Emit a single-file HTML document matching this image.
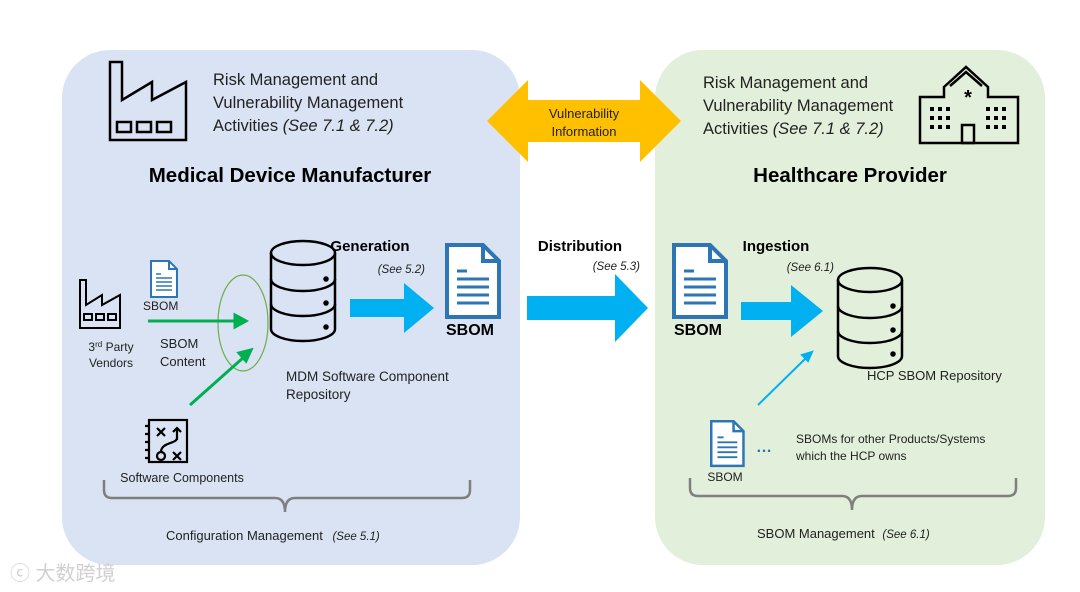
<!DOCTYPE html>
<html><head><meta charset="utf-8"><style>
html,body{margin:0;padding:0;background:#fff;}
svg{display:block;font-family:"Liberation Sans",sans-serif;}
</style></head><body>
<svg width="1080" height="592" viewBox="0 0 1080 592" xmlns="http://www.w3.org/2000/svg">
<defs>
<g id="db" fill="none" stroke="#000" stroke-width="2.5">
<path d="M0,12 v76 a32,12 0 0 0 64,0 v-76"/>
<ellipse cx="32" cy="12" rx="32" ry="12"/>
<path d="M0,38 a32,12 0 0 0 64,0 M0,63 a32,12 0 0 0 64,0"/>
<circle cx="55" cy="38" r="1.5" fill="#000"/><circle cx="55" cy="62" r="1.5" fill="#000"/><circle cx="55" cy="86" r="1.5" fill="#000"/>
</g>
<g id="doc">
<path d="M2,2 h36 l16,16 v56 h-52 z" fill="#fff" stroke="#2e75b6" stroke-width="4"/>
<path d="M38,2 v16 h16" fill="none" stroke="#2e75b6" stroke-width="4"/>
<g stroke="#2e75b6" stroke-width="3"><line x1="12" y1="28" x2="22" y2="28"/><line x1="12" y1="36" x2="44" y2="36"/><line x1="12" y1="44" x2="44" y2="44"/><line x1="12" y1="52" x2="44" y2="52"/><line x1="12" y1="60" x2="44" y2="60"/></g>
</g>
</defs>
<rect x="62" y="50" width="458" height="515" rx="48" fill="#dae3f3"/>
<rect x="655" y="50" width="390" height="515" rx="48" fill="#e2efda"/>
<path d="M487,121 L528,80 L528,100 L640,100 L640,80 L681,121 L640,162 L640,142 L528,142 L528,162 Z" fill="#ffc000"/>
<text x="584" y="118" font-size="13" text-anchor="middle" fill="#222">Vulnerability</text>
<text x="584" y="136" font-size="13" text-anchor="middle" fill="#222">Information</text>
<g fill="none" stroke="#000" stroke-width="2.5">
<path d="M110,140 V62 h12 V100 l30,-18 v18 l34,-18 V140 Z"/>
<rect x="117" y="122" width="14" height="10"/><rect x="137" y="122" width="14" height="10"/><rect x="157" y="122" width="14" height="10"/>
</g>
<g font-size="16.5" fill="#222">
<text x="213" y="85">Risk Management and</text>
<text x="213" y="108">Vulnerability Management</text>
<text x="213" y="131">Activities <tspan font-style="italic">(See 7.1 &amp; 7.2)</tspan></text>
</g>
<text x="290" y="182" font-size="20.5" font-weight="bold" text-anchor="middle" fill="#000">Medical Device Manufacturer</text>
<g fill="none" stroke="#000" stroke-width="2.5">
<path d="M920,97 h24 v-10 l22,-20 l22,20 v10 h30 v46 h-98 z"/>
<path d="M950,86 l16,-14 l16,14"/>
<rect x="962" y="125" width="12" height="18"/>
</g>
<text x="968" y="104" font-size="20" font-weight="bold" text-anchor="middle">*</text>
<g fill="#000">
<rect x="930" y="107" width="4" height="4"/><rect x="938" y="107" width="4" height="4"/><rect x="946" y="107" width="4" height="4"/>
<rect x="930" y="116" width="4" height="4"/><rect x="938" y="116" width="4" height="4"/><rect x="946" y="116" width="4" height="4"/>
<rect x="930" y="125" width="4" height="4"/><rect x="938" y="125" width="4" height="4"/><rect x="946" y="125" width="4" height="4"/>
<rect x="986" y="107" width="4" height="4"/><rect x="994" y="107" width="4" height="4"/><rect x="1002" y="107" width="4" height="4"/>
<rect x="986" y="116" width="4" height="4"/><rect x="994" y="116" width="4" height="4"/><rect x="1002" y="116" width="4" height="4"/>
<rect x="986" y="125" width="4" height="4"/><rect x="994" y="125" width="4" height="4"/><rect x="1002" y="125" width="4" height="4"/>
</g>
<g font-size="16.5" fill="#222">
<text x="703" y="88">Risk Management and</text>
<text x="703" y="111">Vulnerability Management</text>
<text x="703" y="134">Activities <tspan font-style="italic">(See 7.1 &amp; 7.2)</tspan></text>
</g>
<text x="850" y="182" font-size="20.5" font-weight="bold" text-anchor="middle" fill="#000">Healthcare Provider</text>
<g fill="none" stroke="#000" stroke-width="2">
<path d="M80,328 V280 h6 V305 l16,-10 v10 l18,-10 V328 Z"/>
<rect x="84" y="314" width="8" height="6"/><rect x="96" y="314" width="8" height="6"/><rect x="108" y="314" width="8" height="6"/>
</g>
<text x="111" y="351" font-size="12" text-anchor="middle" fill="#222">3<tspan font-size="8" dy="-4">rd</tspan><tspan dy="4"> Party</tspan></text>
<text x="111" y="367" font-size="12" text-anchor="middle" fill="#222">Vendors</text>
<g transform="translate(150,260) scale(0.5)"><use href="#doc"/></g>
<text x="143" y="310" font-size="12" fill="#222">SBOM</text>
<text x="160" y="348" font-size="13" fill="#222">SBOM</text>
<text x="160" y="366" font-size="13" fill="#222">Content</text>
<ellipse cx="243" cy="323" rx="25" ry="48" fill="none" stroke="#70ad47" stroke-width="1.2"/>
<g stroke="#00b050" stroke-width="3" fill="#00b050">
<line x1="148" y1="321" x2="238" y2="321"/><path d="M246,321 l-11,-6 v12 z"/>
<line x1="190" y1="405" x2="244" y2="357"/><path d="M251,350 l-12,3 l7,8 z"/>
</g>
<g transform="translate(145,418)" fill="none" stroke="#000" stroke-width="2.2">
<rect x="4" y="2" width="38" height="42"/>
<path d="M0,8 h4 M0,16 h4 M0,24 h4 M0,32 h4 M0,40 h4"/>
<path d="M12,10 l8,8 M20,10 l-8,8 M28,34 l8,8 M36,34 l-8,8 M32,22 v-12 M28,14 l4,-4 l4,4 M16,34 c0,-10 16,-8 16,-14"/>
<circle cx="16" cy="38" r="4"/>
</g>
<text x="182" y="482" font-size="12.5" text-anchor="middle" fill="#222">Software Components</text>
<use href="#db" x="271" y="241"/>
<text x="286" y="381" font-size="13.5" fill="#222">MDM Software Component</text>
<text x="286" y="399" font-size="13.5" fill="#222">Repository</text>
<text x="370" y="251" font-size="15" font-weight="bold" text-anchor="middle">Generation</text>
<text x="425" y="273" font-size="11.5" font-style="italic" text-anchor="end" fill="#222">(See 5.2)</text>
<path d="M350,299 h54 v-16 l30,25 l-30,25 v-16 h-54 z" fill="#00b0f0"/>
<use href="#doc" x="445" y="243"/>
<text x="470" y="335" font-size="16" font-weight="bold" text-anchor="middle">SBOM</text>
<text x="580" y="251" font-size="15" font-weight="bold" text-anchor="middle">Distribution</text>
<text x="640" y="270" font-size="11.5" font-style="italic" text-anchor="end" fill="#222">(See 5.3)</text>
<path d="M527,296 h88 v-22 l33,34 l-33,34 v-22 h-88 z" fill="#00b0f0"/>
<use href="#doc" x="672" y="243"/>
<text x="698" y="335" font-size="16" font-weight="bold" text-anchor="middle">SBOM</text>
<text x="776" y="251" font-size="15" font-weight="bold" text-anchor="middle">Ingestion</text>
<text x="834" y="271" font-size="11.5" font-style="italic" text-anchor="end" fill="#222">(See 6.1)</text>
<path d="M741,302 h50 v-17 l32,26 l-32,26 v-17 h-50 z" fill="#00b0f0"/>
<use href="#db" x="838" y="268"/>
<text x="867" y="380" font-size="13" fill="#222">HCP SBOM Repository</text>
<g stroke="#00b0f0" stroke-width="2" fill="#00b0f0"><line x1="758" y1="405" x2="806" y2="358"/><path d="M812,352 l-10,3 l6,6 z"/></g>
<g transform="translate(710,420) scale(0.62)"><use href="#doc"/></g>
<text x="756" y="452" font-size="16" font-weight="bold" fill="#2e75b6">…</text>
<text x="725" y="481" font-size="12" text-anchor="middle" fill="#222">SBOM</text>
<text x="796" y="443" font-size="12" fill="#222">SBOMs for other Products/Systems</text>
<text x="796" y="460" font-size="12" fill="#222">which the HCP owns</text>
<path d="M104,480 v10 q0,8 8,8 h163 q10,0 10,14 q0,-14 10,-14 h167 q8,0 8,-8 v-10" fill="none" stroke="#7f7f7f" stroke-width="2.5"/>
<path d="M690,478 v10 q0,8 8,8 h144 q10,0 10,14 q0,-14 10,-14 h146 q8,0 8,-8 v-10" fill="none" stroke="#7f7f7f" stroke-width="2.5"/>
<text x="166" y="540" font-size="13" fill="#222">Configuration Management <tspan dx="6" font-size="11.5" font-style="italic">(See 5.1)</tspan></text>
<text x="757" y="538" font-size="13" fill="#222">SBOM Management <tspan dx="4" font-size="11.5" font-style="italic">(See 6.1)</tspan></text>
<text x="10" y="580" font-size="20" fill="#d0d0d0" font-family="'Liberation Sans','Noto Sans CJK SC',sans-serif">ⓒ 大数跨境</text>
</svg>
</body></html>
